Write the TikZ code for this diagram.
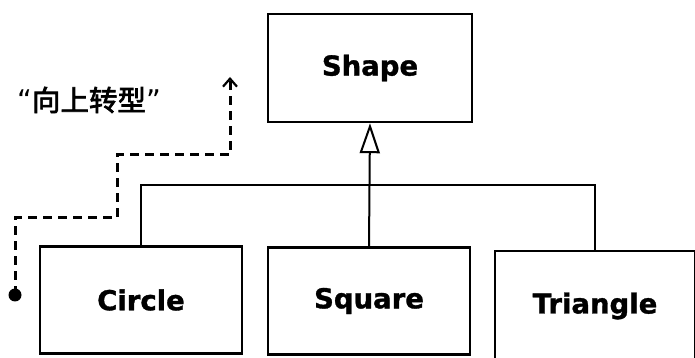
\documentclass[tikz,border=0pt]{standalone}
\usepackage{fontspec}
\setmainfont{DejaVu Sans}
\newfontfamily\cjk[FakeBold=2.5]{Noto Sans CJK SC}
\newfontfamily\classfont[FakeBold=1.2]{DejaVu Sans Bold}
\usetikzlibrary{arrows.meta}
\tikzset{
    classbox/.style={draw, line width=2.4pt, minimum width=202pt, minimum height=107pt,
        inner sep=0pt, font=\fontsize{27.5}{32}\classfont},
    link/.style={line width=2pt},
    upcast/.style={line width=3pt, dash pattern=on 9pt off 6pt}
}
\begin{document}
\begin{tikzpicture}[x=1pt,y=1pt]
    \useasboundingbox (0,0) rectangle (695,358);
    \node[classbox, minimum width=204pt, minimum height=108pt] (S) at (370,290) {Shape};
    \node[classbox] (C) at (141,58) {Circle};
    \node[classbox] (Q) at (369,57) {Square};
    \node[classbox, minimum width=200pt, minimum height=110pt] (T) at (595,52) {Triangle};
    % inheritance
    \coordinate (bus) at (0,173);
    \draw[link, -{Triangle[open, length=30pt, width=20pt, line width=2pt]}] (Q.north) -- (S.south);
    \draw[link] (C.north) -- (C.north |- bus) -- (T.north |- bus) -- (T.north);
    % upcast path
    \coordinate (D0) at (15,63);
    \coordinate (D1) at (15,140);
    \coordinate (D2) at (117,140);
    \coordinate (D3) at (117,203);
    \coordinate (D4) at (230,203);
    \coordinate (D5) at (230,281);
    \fill (D0) circle (6.5pt);
    \draw[upcast, -{Straight Barb[length=8pt, width=14pt, line width=2.2pt]}]
        (D0) -- (D1) -- (D2) -- (D3) -- (D4) -- (D5);
    \node[font=\fontsize{28.5}{32}\selectfont] (L) at (89,258)
        {\textquotedblleft{\cjk 向上转型}\textquotedblright};
\end{tikzpicture}
\end{document}
